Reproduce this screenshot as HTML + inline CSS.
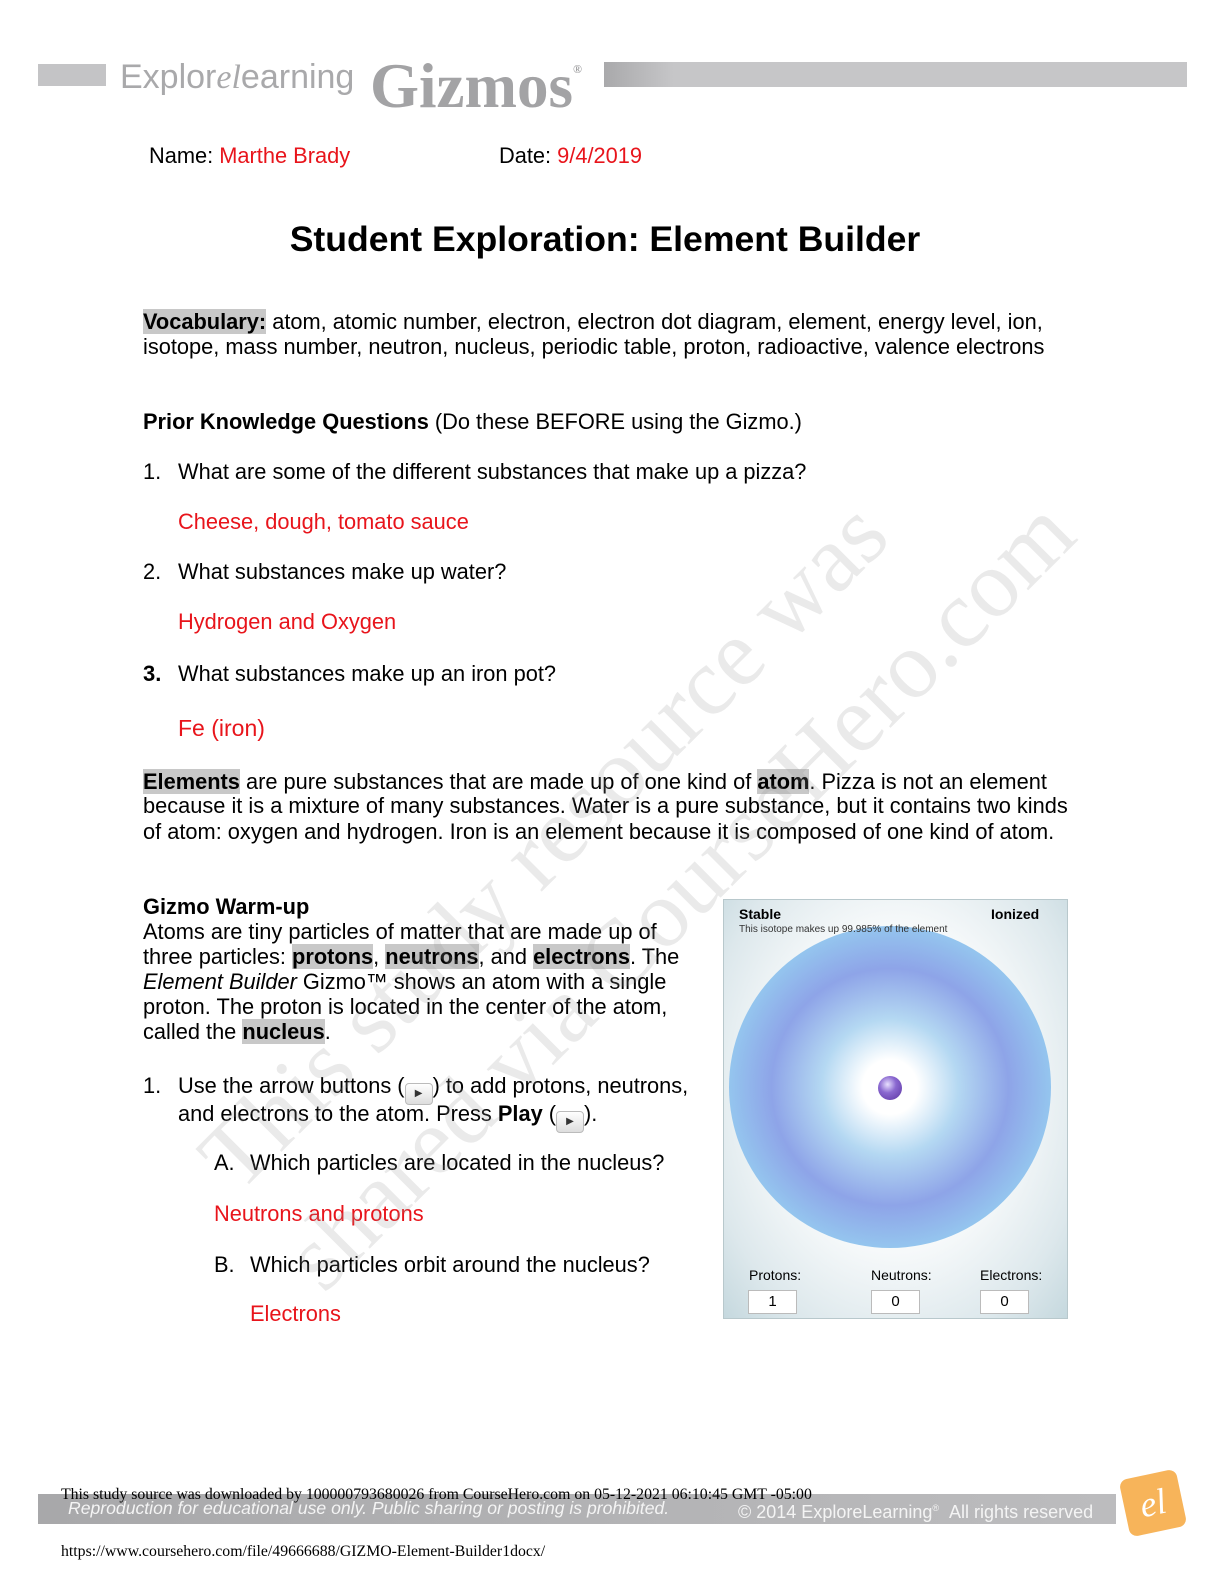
<!DOCTYPE html>
<html><head><meta charset="utf-8"><style>
body{margin:0;width:1224px;height:1584px;position:relative;background:#fff;font-family:"Liberation Sans",sans-serif;color:#000;overflow:hidden}
.t{position:absolute;font-size:21.8px;line-height:24px;white-space:nowrap}
.r{color:#e8141b}
.hl{background:#c8c8c8}
b{font-weight:bold}
.btn{display:inline-block;width:26px;height:20px;border:1px solid #bbb;border-radius:4px;background:linear-gradient(#fff,#ddd);vertical-align:-3px;font-size:10px;text-align:center;line-height:20px;color:#333}
.wm{position:absolute;white-space:nowrap;font-family:'Liberation Serif',serif;font-size:96px;line-height:96px;color:rgba(150,150,150,0.2);transform:rotate(-45deg);transform-origin:0 100%}
</style></head><body>
<!-- header -->
<div style="position:absolute;left:38px;top:64px;width:68px;height:22px;background:#c4c4c6"></div>
<div class="t" style="left:120px;top:57px;font-size:34px;line-height:40px;color:#a9a9ab">Explor<span style="font-style:italic;font-family:'Liberation Serif',serif">el</span>earning</div>
<div class="t" style="left:370px;top:36px;font-size:63px;line-height:66px;color:#a3a3a5;font-family:'Liberation Serif',serif;font-weight:bold">Gizmos<span style="font-size:12px;vertical-align:34px">®</span></div>
<div style="position:absolute;left:604px;top:62px;width:583px;height:25px;background:linear-gradient(90deg,#a9a9ab,#c6c6c8 12%,#c6c6c8)"></div>

<div class="t" style="left:149px;top:144px">Name: <span class="r">Marthe Brady</span></div>
<div class="t" style="left:499px;top:144px">Date: <span class="r">9/4/2019</span></div>
<div class="t" style="left:0;width:1210px;text-align:center;top:219px;font-size:35.6px;line-height:40px;font-weight:bold">Student Exploration: Element Builder</div>

<div class="t" style="left:143px;top:310px"><b class="hl">Vocabulary:</b> atom, atomic number, electron, electron dot diagram, element, energy level, ion,</div>
<div class="t" style="left:143px;top:335px">isotope, mass number, neutron, nucleus, periodic table, proton, radioactive, valence electrons</div>

<div class="t" style="left:143px;top:410px"><b>Prior Knowledge Questions</b> (Do these BEFORE using the Gizmo.)</div>
<div class="t" style="left:143px;top:460px">1.</div><div class="t" style="left:178px;top:460px">What are some of the different substances that make up a pizza?</div>
<div class="t r" style="left:178px;top:510px">Cheese, dough, tomato sauce</div>
<div class="t" style="left:143px;top:560px">2.</div><div class="t" style="left:178px;top:560px">What substances make up water?</div>
<div class="t r" style="left:178px;top:610px">Hydrogen and Oxygen</div>
<div class="t" style="left:143px;top:662px;font-weight:bold;font-size:22px">3.</div><div class="t" style="left:178px;top:662px">What substances make up an iron pot?</div>
<div class="t r" style="left:178px;top:715px;font-size:23px;line-height:26px">Fe (iron)</div>

<div class="t" style="left:143px;top:770px"><b class="hl">Elements</b> are pure substances that are made up of one kind of <b class="hl">atom</b>. Pizza is not an element</div>
<div class="t" style="left:143px;top:794px">because it is a mixture of many substances. Water is a pure substance, but it contains two kinds</div>
<div class="t" style="left:143px;top:820px">of atom: oxygen and hydrogen. Iron is an element because it is composed of one kind of atom.</div>

<div class="t" style="left:143px;top:895px;font-weight:bold">Gizmo Warm-up</div>
<div class="t" style="left:143px;top:920px">Atoms are tiny particles of matter that are made up of</div>
<div class="t" style="left:143px;top:945px">three particles: <b class="hl">protons</b>, <b class="hl">neutrons</b>, and <b class="hl">electrons</b>. The</div>
<div class="t" style="left:143px;top:970px"><i>Element Builder</i> Gizmo™ shows an atom with a single</div>
<div class="t" style="left:143px;top:995px">proton. The proton is located in the center of the atom,</div>
<div class="t" style="left:143px;top:1020px">called the <b class="hl">nucleus</b>.</div>

<div class="t" style="left:143px;top:1074px">1.</div><div class="t" style="left:178px;top:1074px">Use the arrow buttons (<span class="btn">▶</span>) to add protons, neutrons,</div>
<div class="t" style="left:178px;top:1102px">and electrons to the atom. Press <b>Play</b> (<span class="btn">▶</span>).</div>
<div class="t" style="left:214px;top:1151px">A.</div><div class="t" style="left:250px;top:1151px">Which particles are located in the nucleus?</div>
<div class="t r" style="left:214px;top:1202px">Neutrons and protons</div>
<div class="t" style="left:214px;top:1253px">B.</div><div class="t" style="left:250px;top:1253px">Which particles orbit around the nucleus?</div>
<div class="t r" style="left:250px;top:1302px">Electrons</div>

<!-- gizmo -->
<div style="position:absolute;left:723px;top:899px;width:345px;height:420px;background:radial-gradient(ellipse at 50% 45%,#fff 40%,#dde8ec 80%,#c5d8de);border:1px solid #b8c8cc;box-sizing:border-box">
 <div style="position:absolute;left:5px;top:26px;width:322px;height:322px;border-radius:50%;background:radial-gradient(circle,#fff 0%,#fff 12%,#b4d8f2 30%,#8ea4e8 52%,#94c4ee 70%,#90e0f2 85%,#94e8f2 100%)"></div>
 <div style="position:absolute;left:154px;top:176px;width:24px;height:24px;border-radius:50%;background:radial-gradient(circle at 40% 35%,#e8e0ff,#8a68d0 40%,#5a32a0)"></div>
 <div class="t" style="left:15px;top:5px;font-size:14px;font-weight:bold;line-height:18px">Stable</div>
 <div class="t" style="left:267px;top:5px;font-size:14px;font-weight:bold;line-height:18px">Ionized</div>
 <div class="t" style="left:15px;top:24px;font-size:10px;line-height:12px;color:#333">This isotope makes up 99.985% of the element</div>
 <div class="t" style="left:25px;top:366px;font-size:14px;line-height:18px">Protons:</div>
 <div class="t" style="left:147px;top:366px;font-size:14px;line-height:18px">Neutrons:</div>
 <div class="t" style="left:256px;top:366px;font-size:14px;line-height:18px">Electrons:</div>
 <div class="t" style="left:24px;top:390px;width:47px;height:22px;background:#fff;border:1px solid #bbb;font-size:15px;line-height:22px;text-align:center">1</div>
 <div class="t" style="left:147px;top:390px;width:47px;height:22px;background:#fff;border:1px solid #bbb;font-size:15px;line-height:22px;text-align:center">0</div>
 <div class="t" style="left:256px;top:390px;width:47px;height:22px;background:#fff;border:1px solid #bbb;font-size:15px;line-height:22px;text-align:center">0</div>
</div>

<!-- watermark -->
<div class="wm" style="left:250px;top:1110px">This study resource was</div>
<div class="wm" style="left:335px;top:1210px">shared via CourseHero.com</div>

<!-- footer -->
<div style="position:absolute;left:38px;top:1494px;width:1078px;height:30px;background:linear-gradient(90deg,#a8a8aa,#bcbcbe)"></div>
<div class="t" style="left:68px;top:1497px;font-size:17.6px;line-height:22px;color:#f4f4f4;font-style:italic">Reproduction for educational use only. Public sharing or posting is prohibited.</div>
<div class="t" style="left:738px;top:1497px;font-size:18px;line-height:22px;color:#f4f4f4">© 2014 ExploreLearning<sup style="font-size:9px">®</sup> &nbsp;All rights reserved</div>
<div class="t" style="left:61px;top:1486px;font-family:'Liberation Serif',serif;font-size:15.8px;line-height:18px">This study source was downloaded by 100000793680026 from CourseHero.com on 05-12-2021 06:10:45 GMT -05:00</div>
<div style="position:absolute;left:1124px;top:1474px;width:58px;height:58px;background:#f7b45a;border-radius:8px;transform:rotate(-12deg);color:#fff;font-family:'Liberation Serif',serif;font-style:italic;font-size:36px;text-align:center;line-height:58px">el</div>
<div class="t" style="left:61px;top:1543px;font-family:'Liberation Serif',serif;font-size:15.8px;line-height:18px">https://www.coursehero.com/file/49666688/GIZMO-Element-Builder1docx/</div>
</body></html>
